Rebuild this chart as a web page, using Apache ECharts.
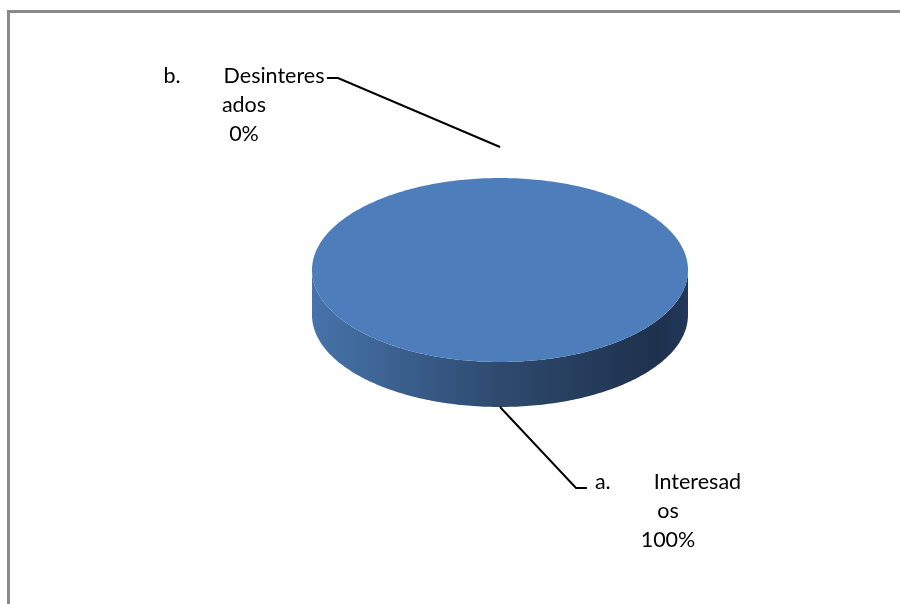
<!DOCTYPE html>
<html>
<head>
<meta charset="utf-8">
<script src="https://cdn.jsdelivr.net/npm/echarts@6/dist/echarts.min.js"></script>
<style>html,body{margin:0;padding:0;background:#fff}#c{width:900px;height:604px}</style>
</head>
<body>
<div id="c"></div>
<script>
// Data
var categories = ['a.\u2003\u2003\u2002Interesad\nos', 'b.\u2003\u2003\u2002Desinteres\nados'];
var values = [100, 0];
var percentLabels = ['100%', '0%'];

var total = values.reduce(function (s, v) { return s + v; }, 0);
var starts = [];
(function () { var acc = 0; for (var i = 0; i < values.length; i++) { starts.push(acc); acc += values[i]; } })();

// Layout (not data)
var CX = 500, CY = 270, RX = 188, RY = 92, DEPTH = 45;
var FONT = '21.5px Lato, "Open Sans", sans-serif';
var labelLayout = [
  { anchorOff: [0, DEPTH], elbow: [76, 81], tail: 11, textX: 668, textDy: -20 },
  { anchorOff: [0, -31], elbow: [-162, -69], tail: -11, textX: 244, textDy: -16 }
];

function pt(t, dy) { return [CX + RX * Math.sin(t), CY - RY * Math.cos(t) + (dy || 0)]; }

function renderItem(params, api) {
  var i = params.dataIndex;
  var v = api.value(0);
  var a0 = starts[i] / total * Math.PI * 2;
  var a1 = (starts[i] + v) / total * Math.PI * 2;
  var children = [];
  var N = 180;
  if (v > 0) {
    var s0 = Math.max(a0, Math.PI / 2), s1 = Math.min(a1, Math.PI * 1.5);
    if (s1 > s0) {
      var side = [], k, t;
      for (k = 0; k <= N; k++) { t = s0 + (s1 - s0) * k / N; side.push(pt(t, 0)); }
      for (k = N; k >= 0; k--) { t = s0 + (s1 - s0) * k / N; side.push(pt(t, DEPTH)); }
      children.push({
        type: 'polygon', z2: 1, shape: { points: side },
        style: { fill: new echarts.graphic.LinearGradient(1, 0, 0, 0, [
          { offset: 0, color: '#22385a' },
          { offset: 0.08, color: '#1e314d' },
          { offset: 0.5, color: '#2e4a6e' },
          { offset: 1, color: '#4673aa' }
        ]) }
      });
    }
    var top = [];
    var full = (a1 - a0) >= Math.PI * 2 - 1e-9;
    if (!full) top.push([CX, CY]);
    for (var j = 0; j <= N * 2; j++) { top.push(pt(a0 + (a1 - a0) * j / (N * 2), 0)); }
    children.push({ type: 'polygon', z2: 2, shape: { points: top }, style: { fill: '#4d7ebb' } });
  }
  var L = labelLayout[i];
  var mid = (a0 + a1) / 2;
  var base = pt(mid, 0);
  var ax = base[0] + L.anchorOff[0], ay = base[1] + L.anchorOff[1];
  var ex = ax + L.elbow[0], ey = ay + L.elbow[1];
  children.push({
    type: 'polyline', z2: 3,
    shape: { points: [[ax, ay], [ex, ey], [ex + L.tail, ey]] },
    style: { stroke: '#000', lineWidth: 2, fill: null }
  });
  children.push({
    type: 'text', z2: 3,
    style: {
      text: categories[i] + '\n' + percentLabels[i],
      x: L.textX, y: ey + L.textDy,
      align: 'center', verticalAlign: 'top',
      font: FONT, lineHeight: 29, fill: '#000'
    }
  });
  return { type: 'group', children: children };
}

var chart = echarts.init(document.getElementById('c'));
chart.setOption({
  animation: false,
  graphic: [{
    type: 'rect', z: -1,
    shape: { x: 8.5, y: 11.5, width: 1000, height: 1000 },
    style: { fill: '#fff', stroke: '#8a8a8a', lineWidth: 3 }
  }],
  series: [{
    type: 'custom',
    coordinateSystem: 'none',
    renderItem: renderItem,
    data: values.map(function (v) { return [v]; })
  }]
});
</script>
</body>
</html>
